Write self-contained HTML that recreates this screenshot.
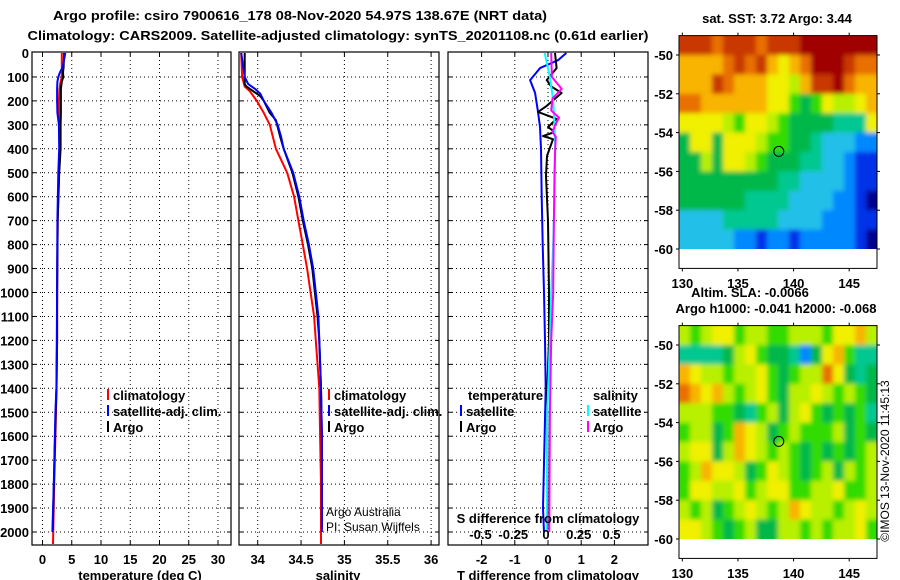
<!DOCTYPE html>
<html><head><meta charset="utf-8"><style>
html,body{margin:0;padding:0;background:#fff;}
svg{display:block;font-family:"Liberation Sans",Arial,sans-serif;}
.b{font-weight:bold;font-size:13px;}
</style></head><body>
<svg id="fig" width="900" height="580" viewBox="0 0 900 580" xmlns="http://www.w3.org/2000/svg">
<defs><filter id="blur" x="-5%" y="-5%" width="110%" height="110%"><feGaussianBlur stdDeviation="2.5"/></filter></defs>
<text x="300" y="20" text-anchor="middle" class="b" font-size="14" textLength="494" lengthAdjust="spacingAndGlyphs">Argo profile: csiro 7900616_178 08-Nov-2020 54.97S 138.67E (NRT data)</text>
<text x="338" y="40" text-anchor="middle" class="b" font-size="14" textLength="621" lengthAdjust="spacingAndGlyphs">Climatology: CARS2009. Satellite-adjusted climatology: synTS_20201108.nc (0.61d earlier)</text>
<g id="panels"></g>
<g id="maps"></g>
<text transform="translate(889,461) rotate(-90)" text-anchor="middle" font-size="12">©IMOS 13-Nov-2020 11:45:13</text>
</svg>
<script>
// ---------------- data ----------------
const depthTicks = [0,100,200,300,400,500,600,700,800,900,1000,1100,1200,1300,1400,1500,1600,1700,1800,1900,2000];
const tempTicks = [0,5,10,15,20,25,30];
const salTicks = [34,34.5,35,35.5,36];
const tdiffTicks = [-2,-1,0,1,2];
const sdiffTicks = [-0.5,-0.25,0,0.25,0.5];
const sdiffTickLabels = ['-0.5','-0.25','0','0.25','0.5'];

const tDepth = [0,60,80,100,120,150,200,250,300,400,500,700,1000,1200,1400,1500,1800,2000];
const tClimDepth = [0,60,80,100,120,150,200,250,300,400,500,700,1000,1200,1400,1500,1800,2050];
const tClim = [3.3,3.3,3.3,3.3,3.1,2.9,2.8,2.8,2.9,3.0,2.8,2.6,2.5,2.5,2.4,2.3,2.0,1.8];
const tSat  = [3.9,3.45,3.0,2.7,2.55,2.5,2.5,2.55,2.8,2.85,2.7,2.55,2.5,2.45,2.37,2.2,1.93,1.7];
const tArgoDepth = [0,60,80,100,120,150,200,250,300,400,500,700,1000,1200,1400,1500,1800,1990];
const tArgo = [3.7,3.6,3.5,3.55,3.3,3.15,3.15,3.15,3.1,3.1,2.85,2.6,2.5,2.5,2.4,2.25,1.95,1.75];

const sSatDepth = [0,50,100,130,150,170,200,250,300,350,400,500,600,700,800,900,1000,1100,1200,1400,1600,1800,2000];
const sSat = [33.81,33.83,33.85,33.89,33.97,34.03,34.07,34.16,34.23,34.27,34.30,34.41,34.48,34.53,34.59,34.64,34.67,34.70,34.71,34.73,34.74,34.74,34.74];
const sClimDepth = [0,100,140,160,200,250,300,400,500,600,700,800,900,1000,1100,1200,1400,1600,1800,2050];
const sClim = [33.81,33.82,33.85,33.91,33.99,34.07,34.14,34.21,34.34,34.42,34.47,34.52,34.57,34.61,34.65,34.67,34.71,34.72,34.73,34.73];
const sArgoDepth = [0,130,140,180,200,250,280,350,400,500,600,700,800,900,1000,1100,1200,1400,1600,1800,1980];
const sArgo = [33.85,33.85,33.87,34.03,34.07,34.14,34.21,34.26,34.30,34.40,34.47,34.52,34.58,34.63,34.66,34.69,34.71,34.73,34.74,34.74,34.74];

const dTSatDepth = [0,30,63,113,167,246,309,400,600,800,1000,1200,1400,1900,2000];
const dTSat = [0.55,0.3,-0.24,-0.54,-0.39,-0.3,-0.24,-0.21,-0.19,-0.16,-0.12,-0.09,-0.07,-0.15,-0.12];
const dTArgoDepth = [0,63,113,140,167,221,246,275,309,330,347,360,430,513,700,1000,1200,1400,1990];
const dTArgo = [0.21,0.26,-0.04,0.1,0.41,-0.04,-0.3,0.26,0,0.2,-0.15,0.15,-0.03,-0.06,0,0.03,0.03,-0.02,-0.02];
const dSSatDepth = [0,100,200,300,400,600,800,1000,1200,1500,2000];
const dSSat = [-0.01,0.03,0.055,0.065,0.07,0.065,0.055,0.04,0.03,0.01,0.005];
const dSArgoDepth = [0,100,150,190,240,270,300,330,350,400,500,700,1000,1200,1500,2000];
const dSArgo = [0.04,0.045,0.12,0.05,0.04,0.1,0.07,0.05,0.075,0.07,0.065,0.06,0.055,0.04,0.03,0.025];

const latTicks = [-50,-52,-54,-56,-58,-60];
const lonTicks = [130,135,140,145];
const sstGrid = [
[11,11,11,10,11,11,11,10,11,11,11,12,12,12,12,12,12,12],
[9,9,9,9,10,11,10,11,9,8,9,10,12,12,12,11,10,10],
[9,9,9,11,10,9,9,9,8,8,7,9,11,11,12,10,9,9],
[10,10,9,9,9,9,9,9,8,8,6,5,6,8,7,7,8,9],
[8,8,8,8,7,6,8,8,7,6,5,5,5,5,4,4,4,8],
[5,8,8,5,8,8,8,7,6,6,5,5,4,3,3,3,2,2],
[5,5,7,5,8,8,7,6,5,5,5,4,4,3,3,2,1,1],
[5,5,5,5,5,5,5,5,5,4,4,3,3,3,3,2,1,1],
[5,5,5,5,5,5,4,4,4,4,3,3,3,3,2,2,1,0],
[3,3,3,3,4,4,4,4,4,3,3,3,3,2,2,2,1,1],
[3,3,3,3,3,2,2,1,2,2,1,2,2,2,2,2,1,0]];
const slaGrid = [
[7,6,7,8,8,6,7,7,6,6,7,7,7,6,8,8,9,7],
[4,4,4,4,5,7,8,6,5,5,4,2,5,8,9,6,4,4],
[9,8,7,7,6,7,7,8,6,5,6,7,7,10,8,5,4,5],
[10,9,8,9,7,6,7,8,6,5,7,7,8,7,6,7,6,5],
[7,7,7,6,6,5,4,6,7,5,7,8,6,5,6,5,6,4],
[6,7,7,5,6,9,8,7,5,6,7,6,6,6,7,5,6,5],
[7,8,8,5,7,9,8,7,6,7,6,5,6,5,6,5,6,7],
[6,7,9,8,8,7,5,6,8,7,6,5,6,7,5,7,6,7],
[6,8,8,7,7,8,6,7,8,8,6,6,7,7,8,6,6,7],
[7,6,7,5,6,7,8,7,6,7,9,8,7,7,6,7,8,7],
[8,8,7,6,5,6,7,5,5,7,7,6,7,6,7,7,8,6]];
const profLon = 138.67, profLat = -54.97;

// ---------------- drawing ----------------
const NS='http://www.w3.org/2000/svg';
function mk(tag, attrs, parent){const e=document.createElementNS(NS,tag);for(const k in attrs)e.setAttribute(k,attrs[k]);parent.appendChild(e);return e;}
const P=document.getElementById('panels');
const yD = d => 53 + d*0.2395;
const pTop=52, pBot=545;
const xT = v => 42.5 + v*5.85;
const xS = v => 257.7 + (v-34)*86.7;
const xTD = v => 548 + v*33.2;
const xSD = v => 546 + v*131;

let cid=0;
function panel(name,x0,x1,gx,ticks,labels,xl,xlabel){
  const g=mk('g',{},P);
  
  
  cid++;
  const cp=mk('clipPath',{id:'c'+cid},g); mk('rect',{x:x0,y:pTop,width:x1-x0,height:pBot-pTop},cp);
  depthTicks.forEach(d=>{ if(d>0){const y=yD(d); mk('line',{x1:x0,x2:x1,y1:y,y2:y,stroke:'#000','stroke-width':1,'stroke-dasharray':'1,3'},g);
     mk('line',{x1:x0,x2:x0+4,y1:y,y2:y,stroke:'#000'},g); mk('line',{x1:x1-4,x2:x1,y1:y,y2:y,stroke:'#000'},g);}});
  gx.forEach(v=>{const x=v; mk('line',{x1:x,x2:x,y1:pTop,y2:pBot,stroke:'#000','stroke-width':1,'stroke-dasharray':'1,3'},g);
     mk('line',{x1:x,x2:x,y1:pTop,y2:pTop+4,stroke:'#000'},g); mk('line',{x1:x,x2:x,y1:pBot-4,y2:pBot,stroke:'#000'},g);});
  mk('rect',{x:x0,y:pTop,width:x1-x0,height:pBot-pTop,fill:'none',stroke:'#000','stroke-width':1.2},g);
  ticks.forEach((t,i)=>{const tx=mk('text',{x:t,y:564,'text-anchor':'middle',class:'b'},g); tx.textContent=labels[i];
     });
  const xt=mk('text',{x:xl,y:580,'text-anchor':'middle',class:'b'},g); xt.textContent=xlabel;
   
  return g;
}
function line(g,depths,vals,xf,color,name,w){
  const pts=depths.map((d,i)=>xf(vals[i]).toFixed(1)+','+yD(d).toFixed(1)).join(' ');
  const pl=mk('polyline',{points:pts,fill:'none',stroke:color,'stroke-width':w||2,'clip-path':'url(#c'+cid+')','stroke-linejoin':'round'},g);
  
  
}
function legend(g,x,y,color,label){
  mk('rect',{x:x,y:y-6,width:2,height:11,fill:color},g);
  if(label){const t=mk('text',{x:x+6,y:y+5,class:'b'},g); t.textContent=label;
   }
}

depthTicks.forEach(d=>{const t=mk('text',{x:29,y:yD(d)+5,'text-anchor':'end',class:'b'},P); t.textContent=d;
   });

let g1=panel('temperature-panel',32,231,tempTicks.map(xT),tempTicks.map(xT),tempTicks.map(String),140,'temperature (deg C)');
line(g1,tClimDepth,tClim,xT,'#f00','temp-climatology-line');
line(g1,tArgoDepth,tArgo,xT,'#000','temp-argo-line');
line(g1,tDepth,tSat,xT,'#00f','temp-satellite-line');
legend(g1,107,395,'#f00','climatology');legend(g1,107,411,'#00f','satellite-adj. clim.');legend(g1,107,427,'#000','Argo');

let g2=panel('salinity-panel',239,439,salTicks.map(xS),salTicks.map(xS),salTicks.map(String),338,'salinity');
line(g2,sClimDepth,sClim,xS,'#f00','sal-climatology-line');
line(g2,sArgoDepth,sArgo,xS,'#000','sal-argo-line');
line(g2,sSatDepth,sSat,xS,'#00f','sal-satellite-line');
legend(g2,328,395,'#f00','climatology');legend(g2,328,411,'#00f','satellite-adj. clim.');legend(g2,328,427,'#000','Argo');
let a1=mk('text',{x:326,y:516,'font-size':12},g2); a1.textContent='Argo Australia';
 
let a2=mk('text',{x:326,y:531,'font-size':12},g2); a2.textContent='PI: Susan Wijffels';
 

let g3=panel('difference-panel',448,648,tdiffTicks.map(xTD),tdiffTicks.map(xTD),tdiffTicks.map(String),548,'T difference from climatology');
line(g3,dTSatDepth,dTSat,xTD,'#00f','tdiff-satellite-line');
line(g3,dTArgoDepth,dTArgo,xTD,'#000','tdiff-argo-line');
line(g3,dSSatDepth,dSSat,xSD,'#0ff','sdiff-satellite-line');
line(g3,dSArgoDepth,dSArgo,xSD,'#f0f','sdiff-argo-line');
let lt=mk('text',{x:468,y:400,class:'b'},g3); lt.textContent='temperature';  
let ls=mk('text',{x:593,y:400,class:'b'},g3); ls.textContent='salinity';  
legend(g3,460,411,'#00f','satellite');legend(g3,460,427,'#000','Argo');
legend(g3,587,411,'#0ff','satellite');legend(g3,587,427,'#f0f','Argo');
let st=mk('text',{x:548,y:523,'text-anchor':'middle',class:'b'},g3); st.textContent='S difference from climatology';
 
sdiffTicks.forEach((v,i)=>{const t=mk('text',{x:xSD(v),y:539,'text-anchor':'middle',class:'b'},g3); t.textContent=sdiffTickLabels[i];
   });

const palette=['#000090','#0030e8','#0088ff','#20c0e8','#00c890','#00b848','#30dc00','#b8f000','#f0f000','#f8b400','#e87000','#c83800','#a00000'];
const M=document.getElementById('maps');
const mx0=679, mx1=877, lonL=129.7, lonR=147.5;
const mLon = v => mx0 + (v-lonL)*(mx1-mx0)/(lonR-lonL);
let mid=0;
function map(name,off,grid,titles){
  const g=mk('g',{},M);
  
  
  const mLat = v => off+55 + (-50 - v)*19.4;
  const rows=grid.length, cols=grid[0].length;
  const mTop=mLat(-49), b=mLat(-60);
  const cw=(mx1-mx0)/cols, ch=(b-mTop)/rows;
  mid++;
  const cp=mk('clipPath',{id:'m'+mid},g); mk('rect',{x:mx0,y:mTop,width:mx1-mx0,height:b-mTop},cp);
  const clipG=mk('g',{'clip-path':'url(#m'+mid+')'},g);
  const cells=mk('g',{filter:'url(#blur)'},clipG);
  grid.forEach((r,i)=>r.forEach((v,j)=>{
    const c=mk('rect',{x:(mx0+j*cw-(j==0?6:0)).toFixed(2),y:(mTop+i*ch-(i==0?6:0)).toFixed(2),width:(cw+0.6+(j==0||j==cols-1?6:0)).toFixed(2),height:(ch+0.6+(i==0||i==rows-1?6:0)).toFixed(2),fill:palette[v]},cells);
    
    
  }));
  const fb=mLat(-61);
  mk('rect',{x:mx0,y:mTop,width:mx1-mx0,height:fb-mTop,fill:'none',stroke:'#000','stroke-width':1},g);
  latTicks.forEach(l=>{const y=mLat(l); mk('line',{x1:mx1,x2:mx1+3,y1:y,y2:y,stroke:'#000'},g); mk('line',{x1:mx0-3,x2:mx0,y1:y,y2:y,stroke:'#000'},g);
    const t=mk('text',{x:673,y:y+5,'text-anchor':'end',class:'b'},g); t.textContent=l;
     });
  lonTicks.forEach(l=>{const x=mLon(l); mk('line',{x1:x,x2:x,y1:mTop-3,y2:mTop,stroke:'#000'},g); mk('line',{x1:x,x2:x,y1:fb,y2:fb+3,stroke:'#000'},g);
    const t=mk('text',{x:x,y:off+288,'text-anchor':'middle',class:'b'},g); t.textContent=l;
     });
  const ci=mk('circle',{cx:mLon(profLon),cy:mLat(profLat),r:5,fill:'none',stroke:'#000','stroke-width':1},g);
   
  titles.forEach(tt=>{const t=mk('text',{x:tt[0],y:tt[1],'text-anchor':'middle',class:'b'},M); t.textContent=tt[2];
     });
}
map('sst-map',0,sstGrid,[[777,23,'sat. SST: 3.72 Argo: 3.44']]);
map('sla-map',290,slaGrid,[[750,297,'Altim. SLA: -0.0066'],[776,313,'Argo h1000: -0.041 h2000: -0.068']]);
</script>
</body></html>
